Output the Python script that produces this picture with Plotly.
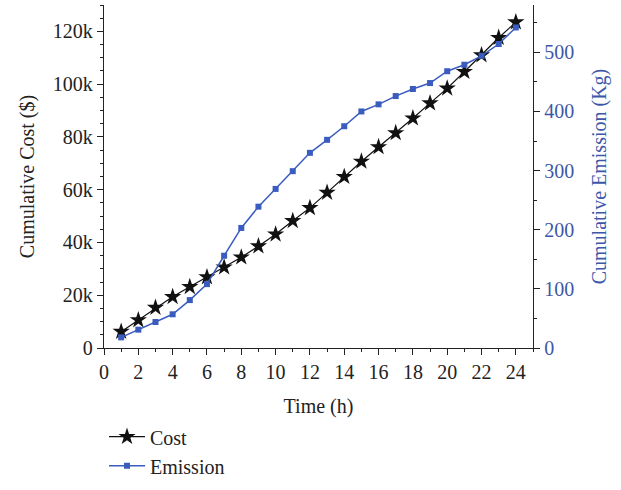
import plotly.graph_objects as go

hours = list(range(1, 25))
cost = [6200, 10600, 15300, 19400, 23200, 26900, 30600, 34400, 38600, 43100, 48200, 53100,
        58900, 64900, 70700, 76200, 81500, 87100, 92800, 98400, 104700, 111000, 117600, 123500]
emission = [18, 31, 44, 57, 81, 108, 156, 203, 239, 269, 299, 330,
            352, 375, 400, 412, 426, 438, 448, 468, 479, 494, 514, 542]

cost_ticks = [0, 20000, 40000, 60000, 80000, 100000, 120000]
cost_labels = ["0", "20k", "40k", "60k", "80k", "100k", "120k"]
x_ticks = list(range(0, 25, 2))

BLUE = "#3a5cbf"
LBLUE = "#3d57a8"
FONT = "Liberation Serif"

fig = go.Figure()
fig.add_trace(go.Scatter(x=hours, y=cost, name="Cost", mode="lines+markers",
                         line=dict(color="#111111", width=1.2),
                         marker=dict(symbol="star", size=13, color="#111111"),
                         yaxis="y"))
fig.add_trace(go.Scatter(x=hours, y=emission, name="Emission", mode="lines+markers",
                         line=dict(color=BLUE, width=1.5),
                         marker=dict(symbol="square", size=6, color=BLUE),
                         yaxis="y2"))

axis_common = dict(showline=True, linecolor="#222222", linewidth=1.3, showgrid=False,
                   zeroline=False, ticks="outside", ticklen=6, tickwidth=1.2, tickcolor="#222222",
                   automargin=False)

fig.update_layout(
    width=621, height=490,
    margin=dict(l=104, r=88, t=5, b=139),
    plot_bgcolor="white", paper_bgcolor="white",
    font=dict(family=FONT, size=20, color="#222222"),
    xaxis=dict(range=[0, 25], tickvals=x_ticks, title=dict(text="Time (h)", font=dict(size=20), standoff=16),
               minor=dict(dtick=1, ticks="outside", ticklen=3, tickcolor="#222222"),
               **axis_common),
    xaxis2=dict(range=[0, 25], overlaying="x", side="top", anchor="y", tickvals=x_ticks,
                showticklabels=False, showline=True, linecolor="#222222", linewidth=1.3,
                ticks="inside", ticklen=6, tickwidth=1.2, tickcolor="#222222", showgrid=False,
                zeroline=False,
                minor=dict(dtick=1, ticks="inside", ticklen=3, tickcolor="#222222")),
    yaxis=dict(range=[0, 130000], tickvals=cost_ticks, ticktext=cost_labels,
               title=dict(text="Cumulative Cost ($)", font=dict(size=20), standoff=12),
               minor=dict(dtick=5000, ticks="outside", ticklen=3, tickcolor="#222222"),
               **axis_common),
    yaxis2=dict(range=[0, 580], overlaying="y", side="right", anchor="x", dtick=100,
                tickfont=dict(color=LBLUE),
                title=dict(text="Cumulative Emission (Kg)", font=dict(size=20, color=LBLUE), standoff=18),
                minor=dict(dtick=50, ticks="outside", ticklen=3, tickcolor="#222222"),
                **axis_common),
    legend=dict(x=0.0, y=-0.40, xanchor="left", yanchor="bottom", orientation="v",
                font=dict(size=20), bgcolor="rgba(0,0,0,0)", tracegroupgap=0, itemwidth=36),
    showlegend=True,
)

fig.write_html("out.html")
